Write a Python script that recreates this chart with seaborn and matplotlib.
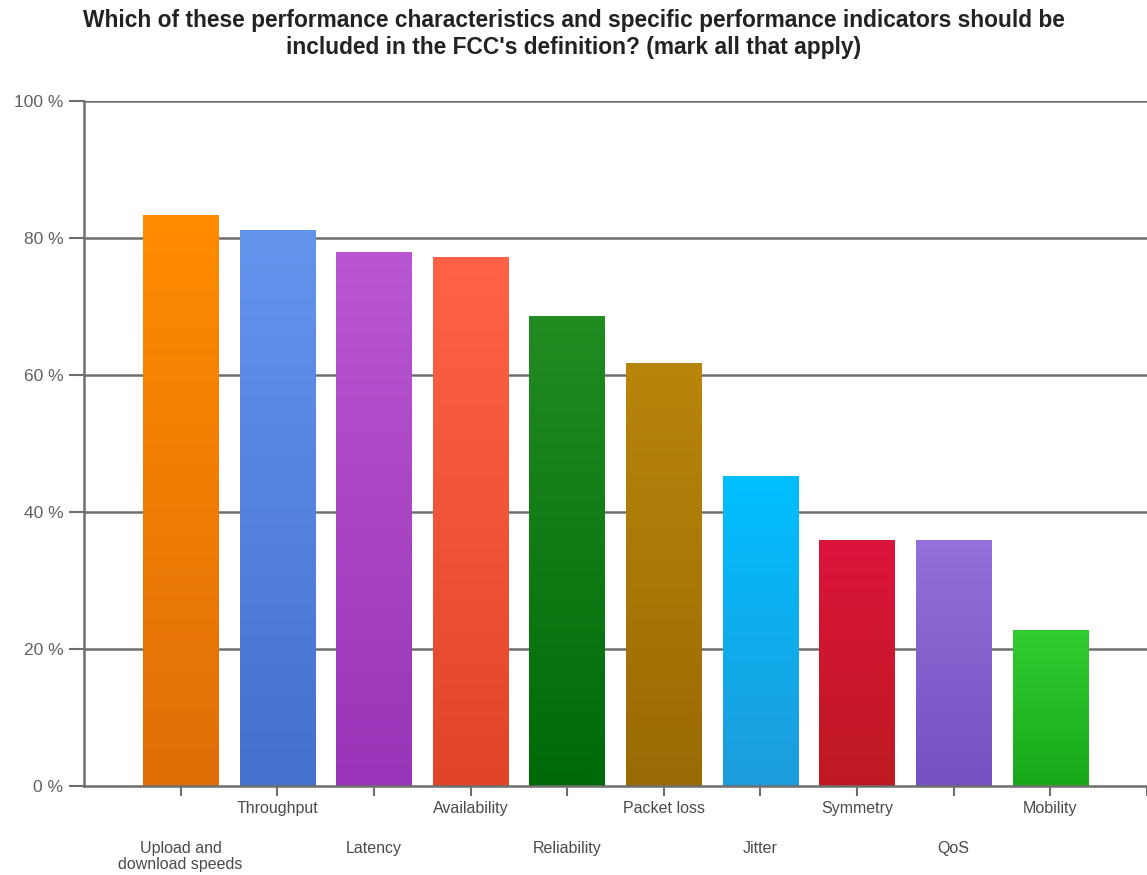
import numpy as np
import pandas as pd
import matplotlib
matplotlib.use("Agg")
import matplotlib.pyplot as plt
from matplotlib.colors import LinearSegmentedColormap
import seaborn as sns

categories = ["Upload and\ndownload speeds", "Throughput", "Latency", "Availability",
              "Reliability", "Packet loss", "Jitter", "Symmetry", "QoS", "Mobility"]
values = [83.4, 81.2, 78.0, 77.2, 68.6, 61.8, 45.3, 35.9, 35.9, 22.8]
top_colors = ["#FF8C00", "#6495ED", "#BA55D3", "#FF6347", "#228B22",
              "#B8860B", "#00BFFF", "#DC143C", "#9370DB", "#32CD32"]
bottom_colors = ["#E06E08", "#4470CE", "#9A34B8", "#E0452A", "#006A08",
                 "#9A6A05", "#1E9CDC", "#BE1A22", "#7550C0", "#18A818"]
y_ticks = [0, 20, 40, 60, 80, 100]
y_tick_labels = ["0 %", "20 %", "40 %", "60 %", "80 %", "100 %"]
title = ("Which of these performance characteristics and specific performance indicators should be\n"
         "included in the FCC's definition? (mark all that apply)")

sns.set_theme(style="white")
plt.rcParams["font.family"] = ["Liberation Sans", "DejaVu Sans"]

df = pd.DataFrame({"category": categories, "value": values})

fig = plt.figure(figsize=(11.47, 8.75), dpi=100)
ax = fig.add_axes([84 / 1147, 1 - 786 / 875, 1063 / 1147, 685 / 875])

sns.barplot(data=df, x="category", y="value", hue="category", palette=top_colors,
            legend=False, width=0.78, saturation=1, ax=ax, zorder=3)

# vertical gradient fill for each bar, lighter at the top
for patch, c_top, c_bot in zip(ax.patches, top_colors, bottom_colors):
    x0, y0 = patch.get_x(), patch.get_y()
    w, h = patch.get_width(), patch.get_height()
    cmap = LinearSegmentedColormap.from_list("g", [c_bot, c_top])
    grad = np.linspace(0, 1, 256).reshape(-1, 1)
    im = ax.imshow(grad, cmap=cmap, origin="lower", aspect="auto",
                   extent=[x0, x0 + w, y0, y0 + h], zorder=4)
    im.set_clip_path(patch)
    patch.set_edgecolor("none")
ax.set_xlim(-1, 10.0)
ax.set_ylim(0, 100)

# horizontal grid lines
for yv in y_ticks[1:]:
    ax.axhline(yv, color="#6e6e6e", lw=1.8, zorder=2)

ax.set_yticks(y_ticks)
ax.set_yticklabels(y_tick_labels, fontsize=12.5, color="#606060")
ax.tick_params(axis="y", length=11, width=1.5, color="#6e6e6e", pad=4, left=True)

# staggered category labels on the x axis
ax.set_xticks(list(range(len(categories))) + [10])
ax.set_xticklabels([""] * (len(categories) + 1))
ax.tick_params(axis="x", length=7, width=1.5, color="#6e6e6e", bottom=True)
for i, name in enumerate(categories):
    ypos = -0.022 if i % 2 == 1 else -0.080
    ax.text(i, ypos, name, transform=ax.get_xaxis_transform(), ha="center", va="top",
            fontsize=11.5, color="#4a4a4a", linespacing=1.12)

ax.set_xlabel("")
ax.set_ylabel("")
for side in ["top", "right"]:
    ax.spines[side].set_visible(False)
for side in ["left", "bottom"]:
    ax.spines[side].set_color("#6e6e6e")
    ax.spines[side].set_linewidth(1.8)
    ax.spines[side].set_zorder(5)

fig.text(0.5, 1 - 9 / 875, title, ha="center", va="top", fontsize=16.4,
         fontweight="bold", color="#222222", linespacing=1.22)

fig.savefig("out.png", dpi=100)
